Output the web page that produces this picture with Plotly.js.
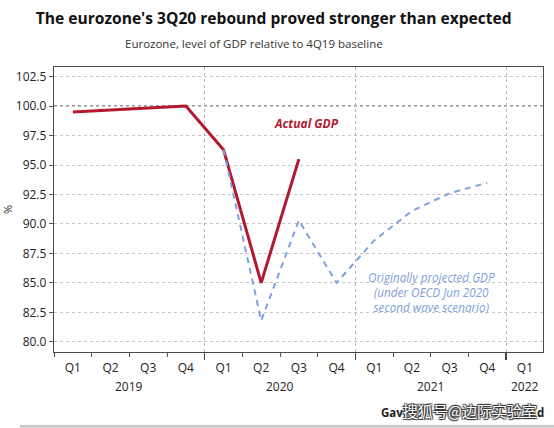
<!DOCTYPE html>
<html>
<head>
<meta charset="utf-8">
<script src="https://cdn.plot.ly/plotly-3.0.1.min.js"></script>
<style>html,body{margin:0;padding:0;background:#fff;}#chart{width:554px;height:428px;}</style>
</head>
<body>
<div id="chart"></div>
<script>
// ---- data ----
const quarterLabels = ['Q1','Q2','Q3','Q4','Q1','Q2','Q3','Q4','Q1','Q2','Q3','Q4','Q1'];
const quarterIndex = [0,1,2,3,4,5,6,7,8,9,10,11,12];
const yearLabels = ['2019','2020','2021','2022'];
const yearCentres = [1.5, 5.5, 9.5, 12];
const yearBoundaries = [3.5, 7.5, 11.5];
const quarterBoundaries = [-0.5,0.5,1.5,2.5,4.5,5.5,6.5,8.5,9.5,10.5,12.5];

const actualX = [0,1,2,3,4,5,6];
const actualGDP = [99.5, 99.7, 99.85, 100.0, 96.3, 85.0, 95.5];

const projectedX = [4,5,6,7,8,9,10,11];
const projectedGDP = [96.3, 81.8, 90.3, 85.0, 88.6, 91.1, 92.6, 93.5];

const yTicks = [80, 82.5, 85, 87.5, 90, 92.5, 95, 97.5, 100, 102.5];
const baseline = 100;

const RED = '#b3192e';
const BLUE = '#7fa0da';
const FONT = 'Open Sans, sans-serif';

const traces = [
  {x: projectedX, y: projectedGDP, xaxis: 'x2', yaxis: 'y', type: 'scatter', mode: 'lines',
   line: {color: BLUE, width: 2, dash: '6px,5px'}, hoverinfo: 'skip'},
  {x: actualX, y: actualGDP, xaxis: 'x', yaxis: 'y', type: 'scatter', mode: 'lines',
   line: {color: RED, width: 3}, hoverinfo: 'skip'}
];

const shadow = 'text-shadow:1px 1px 1px #333,-1px -1px 1px #333,1px -1px 1px #333,-1px 1px 1px #333';
const sourceText = "<b>Gav</b><span style=\"font-family:'Noto Sans CJK SC';font-size:15px;color:#ffffff;" + shadow + "\">搜狐号@边际实验室</span><b>d</b>";

const layout = {
  width: 554, height: 428,
  margin: {l: 54, r: 11, t: 67, b: 76},
  paper_bgcolor: '#fff', plot_bgcolor: '#fff',
  showlegend: false,
  font: {family: FONT, size: 12, color: '#222'},
  title: {text: "<b>The eurozone's 3Q20 rebound proved stronger than expected</b>",
          font: {family: FONT, size: 15.6, color: '#111'},
          xref: 'container', x: 0.494, xanchor: 'center',
          yref: 'container', y: 1 - 19/428, yanchor: 'middle'},
  xaxis: {
    range: [-0.5, 12.48], tickmode: 'array', tickvals: quarterIndex, ticktext: quarterLabels,
    ticks: 'outside', ticklen: 4, tickcolor: 'rgba(0,0,0,0)',
    showgrid: false, zeroline: false,
    showline: true, mirror: true, linecolor: '#4a4a4a', linewidth: 1.2,
    tickfont: {family: FONT, size: 12, color: '#222'},
    minor: {tickmode: 'array', tickvals: quarterBoundaries, ticks: 'outside', ticklen: 4,
            tickcolor: '#555', tickwidth: 1, showgrid: false}
  },
  xaxis2: {
    matches: 'x', overlaying: 'x', anchor: 'y', side: 'bottom',
    tickmode: 'array', tickvals: yearBoundaries, ticktext: ['', '', ''],
    ticks: 'outside', ticklen: 7, tickcolor: '#444', tickwidth: 1.2,
    showgrid: true, gridcolor: '#b8b8b8', griddash: 'dot', gridwidth: 1,
    zeroline: false, showline: false
  },
  yaxis: {
    range: [79.13, 103.32], tickmode: 'array', tickvals: yTicks, tickformat: '.1f',
    ticks: 'outside', ticklen: 4, tickcolor: '#555',
    showgrid: true, gridcolor: '#c4c4c4', griddash: 'dot', gridwidth: 1,
    zeroline: false, showline: true, mirror: true, linecolor: '#4a4a4a', linewidth: 1.2,
    tickfont: {family: FONT, size: 12, color: '#222'},
    title: {text: '%', font: {family: FONT, size: 11, color: '#222'}, standoff: 12}
  },
  shapes: [
    {type: 'line', xref: 'paper', x0: 0, x1: 1, yref: 'y', y0: baseline, y1: baseline,
     line: {color: '#333', width: 1.3, dash: 'dot'}, layer: 'below'},
    {type: 'rect', xref: 'paper', x0: -0.07, x1: 1.03, yref: 'paper', y0: -0.266, y1: -0.256,
     line: {width: 0}, fillcolor: '#c8c8c8'}
  ],
  annotations: [
    {text: 'Eurozone, level of GDP relative to 4Q19 baseline', xref: 'paper', yref: 'paper',
     x: 0.409, y: 1.084, xanchor: 'center', yanchor: 'middle', showarrow: false,
     font: {family: FONT, size: 11.5, color: '#333'}},
    {text: '<b><i>Actual GDP</i></b>', xref: 'x', yref: 'y', x: 6.2, y: 98.5,
     showarrow: false, font: {family: FONT, size: 12, color: RED}},
    {text: '<i>Originally projected GDP<br>(under OECD Jun 2020<br>second wave scenario)</i>',
     xref: 'x', yref: 'y', x: 9.53, y: 84.25, showarrow: false, align: 'center',
     font: {family: FONT, size: 11.7, color: BLUE}},
    {text: sourceText, xref: 'paper', yref: 'paper', x: 1.006, y: -0.206,
     xanchor: 'right', yanchor: 'middle', showarrow: false,
     font: {family: FONT, size: 11.5, color: '#222'}}
  ].concat(yearLabels.map((t, i) => ({
    text: t, xref: 'x', yref: 'paper', x: yearCentres[i], y: -0.122,
    xanchor: 'center', yanchor: 'middle', showarrow: false,
    font: {family: FONT, size: 12, color: '#222'}
  })))
};

Plotly.newPlot('chart', traces, layout, {displayModeBar: false, staticPlot: true});
</script>
</body>
</html>
